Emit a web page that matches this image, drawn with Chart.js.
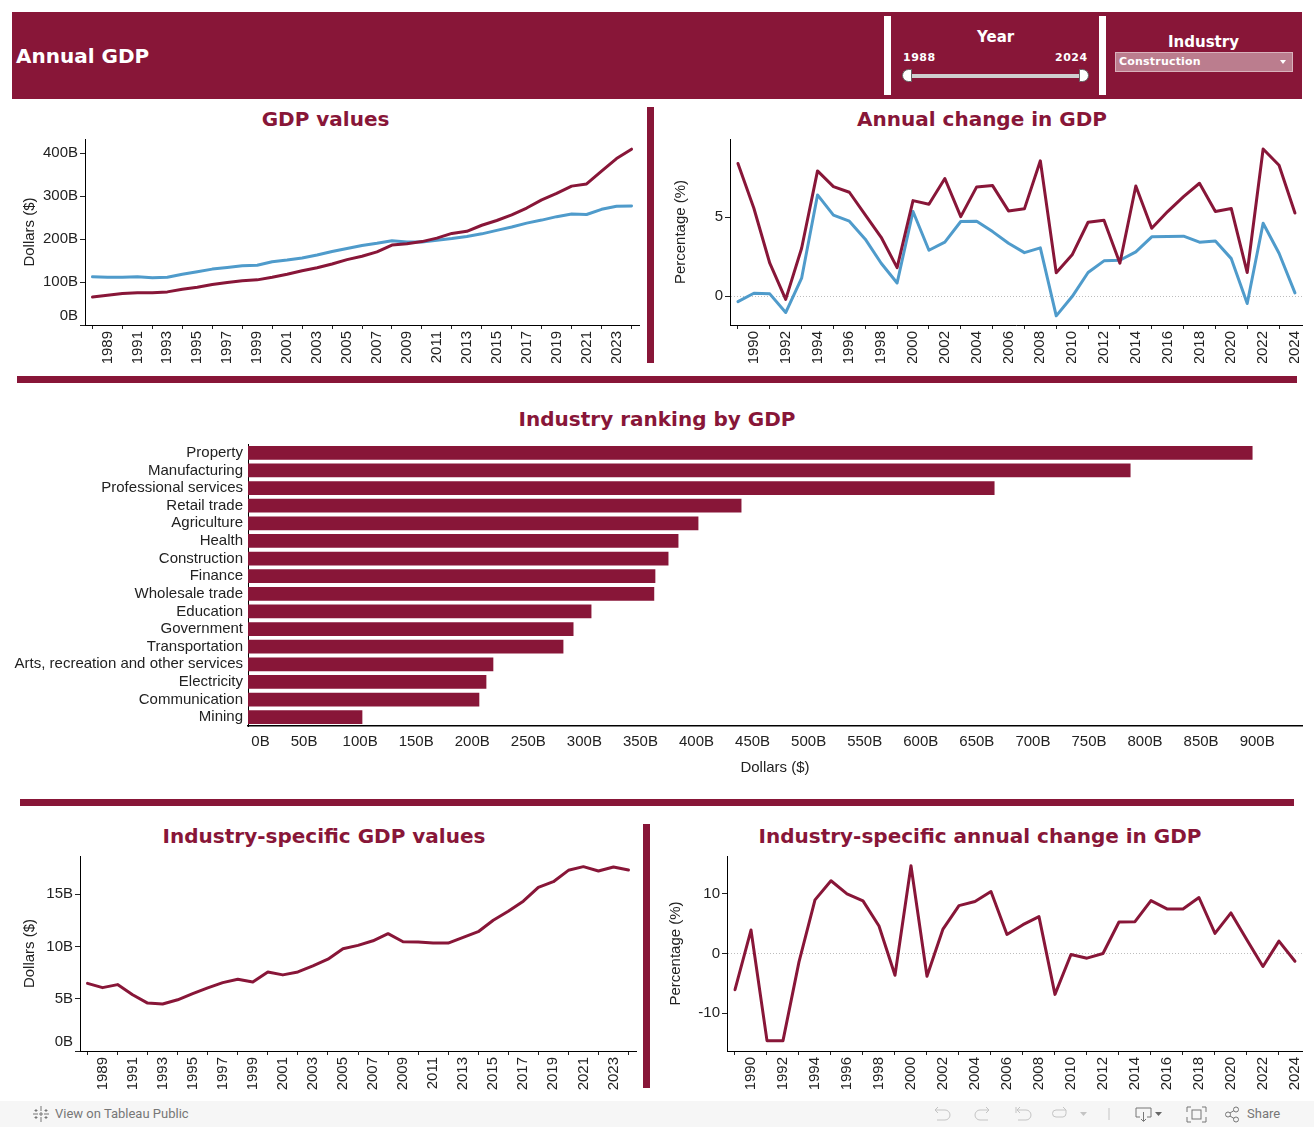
<!DOCTYPE html>
<html>
<head>
<meta charset="utf-8">
<title>Annual GDP</title>
<script src="https://cdn.jsdelivr.net/npm/chart.js@4"></script>
<style>
  html, body { margin: 0; padding: 0; background: #fff; }
  body { position: relative; width: 1314px; height: 1127px; overflow: hidden; font-family: "DejaVu Sans", sans-serif; }
  canvas { position: absolute; }
  .block { position: absolute; background: #881638; }
  .white { position: absolute; background: #fff; }
  .title { position: absolute; color: #881638; font: bold 20px "DejaVu Sans", sans-serif; text-align: center; white-space: nowrap; }
  .head { position: absolute; color: #fff; font-weight: bold; white-space: nowrap; }
  #footer { position: absolute; left: 0; top: 1101px; width: 1314px; height: 26px; background: #f6f6f6; }
  #footer svg { position: absolute; left: 0; top: 0; }
  #tableau { position: absolute; left: 55px; top: 5px; font: 13px Roboto, sans-serif; color: #777; }
  #share { position: absolute; left: 1247px; top: 5px; font: 13px Roboto, sans-serif; color: #777; }
</style>
</head>
<body>
<div class="block" style="left:12px;top:12px;width:1290px;height:87px"></div>
<div class="head" style="left:16px;top:44px;font-size:20px">Annual GDP</div>
<div class="white" style="left:884px;top:16px;width:7px;height:79px"></div>
<div class="white" style="left:1099px;top:16px;width:7px;height:79px"></div>
<div class="head" style="left:977px;top:28px;font-size:15px">Year</div>
<div class="head" style="left:903px;top:51px;font-size:11px;letter-spacing:.5px">1988</div>
<div class="head" style="left:1055px;top:51px;font-size:11px;letter-spacing:.5px">2024</div>
<div style="position:absolute;left:910px;top:74px;width:172px;height:4px;background:#cfcfcf"></div>
<div style="position:absolute;left:902px;top:69px;width:10px;height:13px;background:#fff;border:1px solid #666;border-radius:7px 0 0 7px;box-sizing:border-box"></div>
<div style="position:absolute;left:1079px;top:69px;width:10px;height:13px;background:#fff;border:1px solid #666;border-radius:0 7px 7px 0;box-sizing:border-box"></div>
<div class="head" style="left:1168px;top:33px;font-size:15px">Industry</div>
<div style="position:absolute;left:1115px;top:52px;width:178px;height:20px;box-sizing:border-box;background:#bb7d8e;border:1px solid #d9b2bc"></div>
<div class="head" style="left:1119px;top:55px;font-size:11px;letter-spacing:.2px">Construction</div>
<div style="position:absolute;left:1280px;top:60px;border-left:3.5px solid transparent;border-right:3.5px solid transparent;border-top:4px solid #fff"></div>

<div class="title" style="left:12px;top:107px;width:627px">GDP values</div>
<div class="title" style="left:654px;top:107px;width:656px">Annual change in GDP</div>
<div class="title" style="left:12px;top:407px;width:1290px">Industry ranking by GDP</div>
<div class="title" style="left:12px;top:824px;width:624px">Industry-specific GDP values</div>
<div class="title" style="left:650px;top:824px;width:660px">Industry-specific annual change in GDP</div>

<div class="block" style="left:647px;top:107px;width:7px;height:256px"></div>
<div class="block" style="left:17px;top:376px;width:1280px;height:7px"></div>
<div class="block" style="left:20px;top:799px;width:1274px;height:7px"></div>
<div class="block" style="left:643px;top:824px;width:7px;height:264px"></div>

<canvas id="gdpValues" width="624" height="235" style="left:21px;top:128px"></canvas>
<canvas id="gdpChange" width="643" height="235" style="left:672px;top:128px"></canvas>
<canvas id="ranking" width="1314" height="351" style="left:0;top:430px"></canvas>
<canvas id="industryValues" width="624" height="245" style="left:21px;top:845px"></canvas>
<canvas id="industryChange" width="648" height="245" style="left:667px;top:845px"></canvas>

<div id="footer">
  <svg width="1314" height="26" fill="none" stroke="#9a9a9a" stroke-width="1">
    <g stroke="#777">
      <path d="M41 5v5M41 16v5M33 13h5M44 13h5M36 8v3M34.500 9.500h3M46 8v3M44.500 9.500h3M36 15v3M34.500 16.500h3M46 15v3M44.500 16.500h3M39 13h4M41 11v4"/>
    </g>
    <g stroke="#c4c4c4">
      <path d="M935 9h10a5 5 0 0 1 0 10h-8M935 9l3-3M935 9l3 3"/>
      <path d="M989 9h-9a5 5 0 0 0 0 10h8M989 9l-3-3M989 9l-3 3"/>
      <path d="M1016 6v6M1017 9h9a5 5 0 0 1 0 10h-8M1017 9l3-3M1017 9l3 3"/>
      <path d="M1066 9h-10a3.500 3.500 0 0 0 0 7h7a3.500 3.500 0 0 0 3-3.500V9M1066 9l-3-3"/>
      <path d="M1109 7v12"/>
    </g>
    <path d="M1080 11h7l-3.500 4z" fill="#c4c4c4" stroke="none"/>
    <g stroke="#777">
      <path d="M1136 7h15v9h-4M1140 16h-4V7M1143.500 11v9M1141 18l2.500 2.500 2.500-2.500"/>
      <rect x="1192" y="9" width="9" height="9"/>
      <path d="M1187 11V6h4M1206 11V6h-4M1187 16v5h4M1206 16v5h-4"/>
      <circle cx="1228" cy="13.500" r="2.500"/><circle cx="1236" cy="8.500" r="2.500"/><circle cx="1236" cy="18.500" r="2.500"/>
      <path d="M1230 12l4-2.500M1230 15l4 2.500"/>
    </g>
    <path d="M1155 11h7l-3.500 4z" fill="#666" stroke="none"/>
  </svg>
  <div id="tableau">View on Tableau Public</div>
  <div id="share">Share</div>
</div>

<script>
const maroon = "#881638";
const blue = "#4f9bcb";
const tickFont = { family: "Liberation Sans", size: 15 };
const ink = "#222";

const yearsFrom1988 = ["1988","1989","1990","1991","1992","1993","1994","1995","1996","1997","1998","1999","2000","2001","2002","2003","2004","2005","2006","2007","2008","2009","2010","2011","2012","2013","2014","2015","2016","2017","2018","2019","2020","2021","2022","2023","2024"];
const yearsFrom1989 = yearsFrom1988.slice(1);

// in billions
const gdpMaroon = [65,69,73,75,75,77,83,88,94,99,103,105,111,118,126,133,142,152,160,170,186,189,194,202,213,218,232,243,256,272,291,306,323,328,358,387,409];
const gdpBlue = [112,111,111,112,110,111,118,124,130,134,138,139,147,151,156,163,171,178,185,190,196,193,193,197,201,206,212,220,228,237,244,252,258,257,269,276,277];

// percent
const changeMaroon = [8.4,5.57,2.09,-0.2,3.04,7.93,6.94,6.58,5.15,3.73,1.81,6.05,5.82,7.45,5.04,6.92,7.0,5.4,5.53,8.57,1.48,2.62,4.68,4.81,2.09,6.98,4.3,5.36,6.3,7.15,5.36,5.55,1.5,9.32,8.29,5.27];
const changeBlue = [-0.34,0.19,0.15,-1.03,1.14,6.41,5.13,4.75,3.61,2.09,0.84,5.36,2.91,3.42,4.73,4.75,4.09,3.35,2.76,3.06,-1.24,-0.02,1.5,2.24,2.28,2.81,3.76,3.78,3.8,3.42,3.5,2.38,-0.46,4.62,2.72,0.21];

const industries = ["Property","Manufacturing","Professional services","Retail trade","Agriculture","Health","Construction","Finance","Wholesale trade","Education","Government","Transportation","Arts, recreation and other services","Electricity","Communication","Mining"];
const industryGdp = [895.6,786.8,665.5,439.8,401.4,383.6,374.7,363,362,306,290,281,218.5,212.3,206,101.7];

const constructionGdp = [6.47,6.06,6.35,5.38,4.58,4.49,4.9,5.48,6.03,6.54,6.86,6.6,7.56,7.28,7.56,8.14,8.78,9.78,10.1,10.54,11.22,10.45,10.42,10.32,10.32,10.87,11.41,12.5,13.36,14.33,15.64,16.19,17.28,17.63,17.21,17.6,17.31];
const constructionChange = [-6.05,3.92,-14.57,-14.57,-1.4,8.96,12.16,9.97,8.8,4.59,-3.64,14.68,-3.81,4.09,8.01,8.68,10.36,3.19,4.82,6.16,-6.83,-0.17,-0.78,0,5.27,5.32,8.85,7.45,7.45,9.36,3.36,6.78,2.24,-2.18,2.07,-1.29];

// zero label sits above its tick, same as the reference
const billions = (v) => (v === 0 ? ["0B", ""] : v + "B");

function lineChart(id, cfg) {
  const series = cfg.series.map((s) => ({
    data: s.data,
    borderColor: s.color,
    borderWidth: 3,
    pointRadius: 0,
    tension: 0,
    borderJoinStyle: "round",
    borderCapStyle: "round",
  }));
  new Chart(document.getElementById(id), {
    type: "line",
    data: { labels: cfg.labels, datasets: series },
    options: {
      responsive: false,
      animation: false,
      layout: { autoPadding: false, padding: { top: cfg.top, right: cfg.right } },
      plugins: { legend: { display: false }, tooltip: { enabled: false } },
      scales: {
        x: {
          offset: true,
          grid: { offset: true, drawOnChartArea: false, tickLength: 4, tickColor: ink },
          border: { color: "#000", width: 1 },
          ticks: {
            autoSkip: false,
            minRotation: 90,
            maxRotation: 90,
            padding: 2,
            font: tickFont,
            color: ink,
            callback: (v, i) => (i % 2 === 1 ? cfg.labels[i] : null),
          },
          afterFit: (s) => { s.height = cfg.bottom; },
        },
        y: {
          min: cfg.min,
          max: cfg.max,
          grid: {
            color: (c) => (cfg.zeroLine && c.tick && c.tick.value === 0 ? "#bdbdbd" : "transparent"),
            tickColor: ink,
            tickLength: 5,
            tickBorderDash: [],
          },
          border: { color: "#000", width: 1, dash: [1, 2] },
          ticks: {
            stepSize: cfg.step,
            includeBounds: false,
            padding: 2,
            font: tickFont,
            color: ink,
            callback: cfg.format,
          },
          title: {
            display: true,
            text: cfg.yTitle,
            font: tickFont,
            color: ink,
            padding: 0,
          },
          afterFit: (s) => { s.width = cfg.left; },
        },
      },
    },
  });
}

lineChart("gdpValues", {
  labels: yearsFrom1988,
  series: [{ data: gdpMaroon, color: maroon }, { data: gdpBlue, color: blue }],
  min: 0, max: 432.6, step: 100, format: billions, yTitle: "Dollars ($)",
  left: 64, top: 2, right: 6, bottom: 38,
});

lineChart("gdpChange", {
  labels: yearsFrom1989,
  series: [{ data: changeMaroon, color: maroon }, { data: changeBlue, color: blue }],
  min: -1.82, max: 9.95, step: 5, format: (v) => v, yTitle: "Percentage (%)", zeroLine: true,
  left: 58, top: 2, right: 3, bottom: 38,
});

lineChart("industryValues", {
  labels: yearsFrom1988,
  series: [{ data: constructionGdp, color: maroon }],
  min: 0, max: 18.65, step: 5, format: billions, yTitle: "Dollars ($)",
  left: 59, top: 2, right: 9, bottom: 39,
});

lineChart("industryChange", {
  labels: yearsFrom1989,
  series: [{ data: constructionChange, color: maroon }],
  min: -16.3, max: 16.3, step: 10, format: (v) => v, yTitle: "Percentage (%)", zeroLine: true,
  left: 60, top: 2, right: 3, bottom: 39,
});

new Chart(document.getElementById("ranking"), {
  type: "bar",
  data: {
    labels: industries,
    datasets: [{ data: industryGdp, backgroundColor: maroon, barThickness: 13 }],
  },
  options: {
    indexAxis: "y",
    responsive: false,
    animation: false,
    layout: { autoPadding: false, padding: { top: 0, right: 12 } },
    plugins: { legend: { display: false }, tooltip: { enabled: false } },
    scales: {
      x: {
        min: 0,
        max: 940,
        grid: { display: false, drawTicks: false },
        border: { color: "#000", width: 1.5 },
        ticks: {
          stepSize: 50,
          includeBounds: false,
          padding: 7,
          font: tickFont,
          color: ink,
          maxRotation: 0,
          // 0B starts at the axis instead of centring on it
          callback: (v) => (v === 0 ? "      0B" : v + "B"),
        },
        title: { display: true, text: "Dollars ($)", font: tickFont, color: ink, padding: { top: 2 } },
        afterFit: (s) => { s.height = 55; },
      },
      y: {
        grid: { display: false, drawTicks: false },
        border: { color: "#000", width: 1 },
        ticks: { autoSkip: false, padding: 5, font: tickFont, color: ink },
        afterFit: (s) => { s.width = 248; },
      },
    },
  },
});
</script>
</body>
</html>
